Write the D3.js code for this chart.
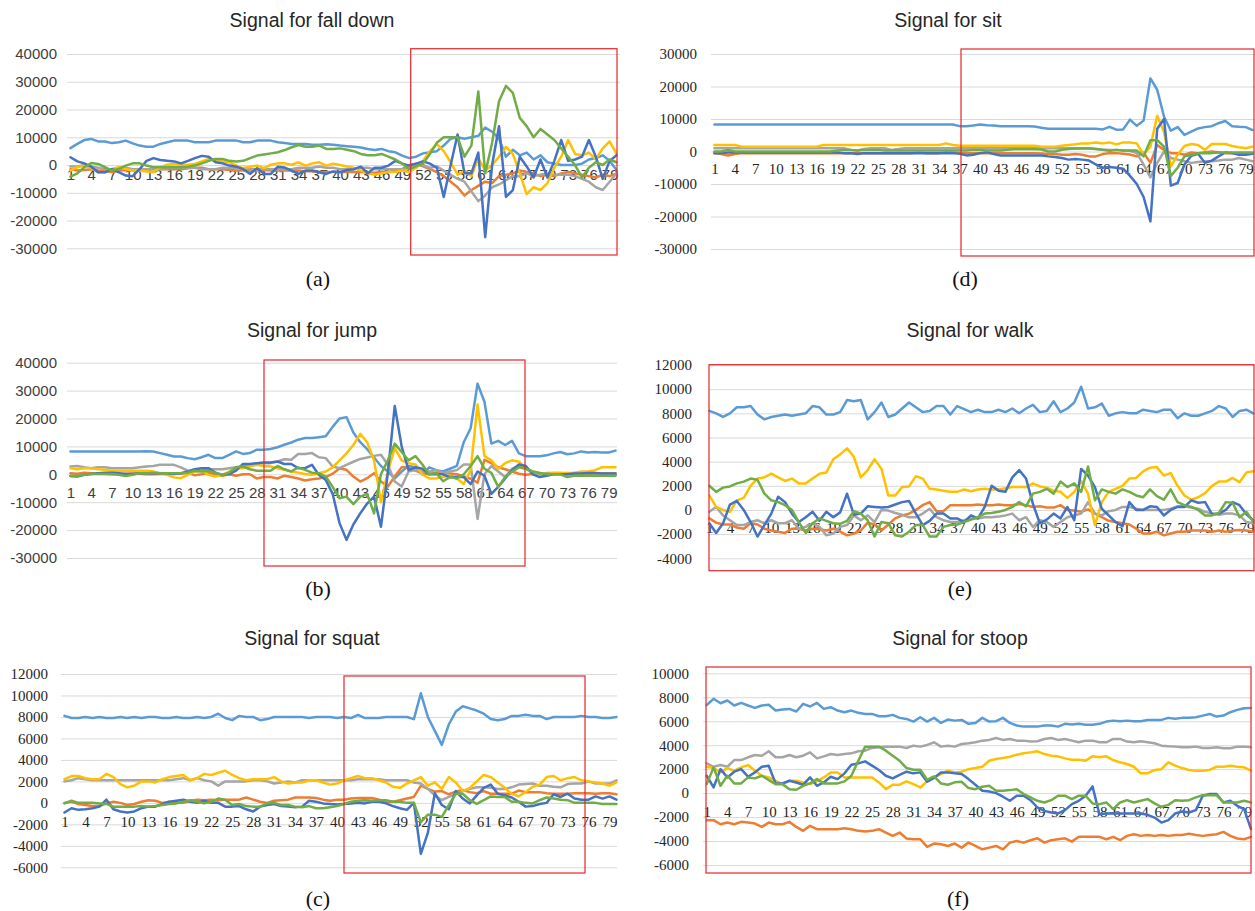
<!DOCTYPE html>
<html>
<head>
<meta charset="utf-8">
<script src="https://d3js.org/d3.v7.min.js"></script>
<style>
  body { margin: 0; background: #fff; }
</style>
</head>
<body>
<svg width="1255" height="911"></svg>
<script>
// samples 1..80, x labels every third sample
const days = d3.range(1, 81);
const xTickLabels = d3.range(1, 80, 3);
const seriesColors = ["#5B9BD5", "#ED7D31", "#A5A5A5", "#FFC000", "#4472C4", "#70AD47"];

// ---- (a) fall down
const fallTicks = [40000, 30000, 20000, 10000, 0, -10000, -20000, -30000];
const fallS1 = [6100,7600,9000,9400,8500,8500,7900,8200,8800,7800, 7000,6600,6600,7600,8200,8800,8800,8800,8200,8200, 8200,8800,8800,8800,8800,8200,8200,8800,8800,8800, 8200,7900,7600,7600,7600,7300,7300,7500,7300,7000, 6800,6600,6300,5800,5400,5800,5000,4600,3400,2500, 3000,4200,4600,5000,7000,9500,10000,9500,10000,10500, 13500,12000,9500,3000,5500,3500,4500,2000,3500,1000, 500,0,0,0,500,2000,2500,3500,1500,-1800];
const fallS2 = [-1500,-2000,-1800,-1500,-2000,-2200,-2500,-2000,-1800,-2000, -1800,-1500,-1500,-1500,-1500,-1500,-1500,-1200,-1000,-1000, -1500,-1500,-1500,-1800,-2000,-2000,-2000,-2000,-1800,-2000, -2000,-2000,-2000,-2000,-2200,-2200,-2500,-2500,-2500,-2500, -2500,-2500,-2500,-2800,-2800,-2500,-2500,-2000,-1500,0, 500,-500,-1500,-2500,-4000,-6000,-8000,-11000,-9000,-7500, -6000,-6500,-4000,-3500,-3000,-2000,-2500,-3000,-4000,-3500, -4000,-3000,-2500,-3000,-3500,-4000,-4500,-3500,-4000,-3000];
const fallS3 = [-500,-500,0,-500,-1000,-1500,-1500,-1000,-1000,-1500, -1500,-1500,-1500,-1500,-1000,-1000,-1000,-1000,-1000,-1500, -1500,-1500,-1000,-1000,-1000,-1500,-1500,-1500,-1500,-1500, -1500,-1500,-1500,-1000,-1000,-1000,-500,-1000,-1000,-1500, -1500,-1500,-1000,-1000,-1500,-1500,-1500,-1500,-1500,-1000, 0,0,-1000,-500,-2000,-3500,-5000,-6000,-9500,-13000, -11000,-8000,-7000,-5500,-4000,-4000,-3000,-4000,-3500,-3000, -3500,-3500,-3500,-4000,-5000,-6000,-8000,-9000,-6000,-3000];
const fallS4 = [-2000,-800,-200,-1100,-2600,-2600,-1400,-800,-1400,-2000, -2000,-2300,-2600,-800,100,400,100,100,400,1300, 2200,1800,1300,1000,-200,-1100,-600,-200,-1100,100, 600,600,100,1000,-200,600,1000,-200,500,0, -500,-1000,-2000,-3000,-3500,-3000,-2500,-2500,-2000,-2500, -1000,1500,5000,7500,5000,1000,-3500,-2000,-4000,2500, -2000,0,3000,6500,4000,-3000,-10500,-8000,-9000,-6500, -1000,3000,9000,4000,3500,4500,2000,6000,8500,4000];
const fallS5 = [2800,1300,600,-600,-2600,-2600,-1500,-2600,-3800,-4000, -1500,1500,2500,1800,1500,1300,600,1500,2500,3300, 3000,1000,600,-200,-600,-1500,-3200,-1100,-3200,-3200, -600,-900,-2000,-3200,-2000,-2000,-2600,-3200,-2300,-2600, -1800,-1500,-600,-3000,-1000,-1000,-200,1500,500,-200, 500,1300,500,-1000,-11500,0,11000,-3000,-3000,4500, -26000,0,14000,-11500,-9000,3000,-500,-4500,2000,-4500, 1500,9000,1500,2000,3000,9000,3000,-5000,1500,3500];
const fallS6 = [-4200,-3000,-800,700,400,-800,-2000,-1400,-200,600, 600,-200,-800,-800,-800,-800,-800,-600,-200,600, 1500,2200,2200,1500,1300,1500,2500,3400,3800,4200, 4600,5400,6400,7200,6600,6600,7000,5800,5800,6000, 5500,5000,4000,3500,3500,4000,3000,2000,500,-1500, -500,500,4000,8000,10000,10000,10000,3000,7000,26500, -3000,8000,23000,28500,26000,17000,14000,10000,13000,11000, 9000,6000,3000,0,-4500,-1000,1000,0,2000,1000];

// ---- (d) sit
const sitTicks = [30000, 20000, 10000, 0, -10000, -20000, -30000];
const sitS1 = [8300,8300,8300,8300,8300,8300,8300,8300,8300,8300, 8300,8300,8300,8300,8300,8300,8300,8300,8300,8300, 8300,8300,8300,8300,8300,8300,8300,8300,8300,8300, 8300,8300,8300,8300,8300,8300,7800,7800,8000,8300, 8100,8000,7800,7800,7800,7800,7800,7700,7300,7000, 7000,7000,7000,7000,7000,7000,7000,6800,7600,6700, 6800,9800,7900,9500,22500,19000,10700,6400,7500,5100, 6100,7100,7500,7800,8700,9400,7800,7600,7500,6600];
const sitS2 = [-500,-800,-1200,-800,-500,-500,-500,-500,-500,-500, -500,-500,-500,-500,-500,-500,-500,-500,-500,-500, -500,-500,-500,-500,-500,-500,-500,-500,-500,-500, -300,-500,-500,-500,-200,-300,-500,-500,-500,-500, -500,-500,-500,-500,-500,-500,-500,-500,-600,-800, -800,-1000,-1000,-800,-1000,-1500,-1500,-800,-500,-500, -700,-900,-1500,-300,-3500,2000,500,-500,-500,-1000, -300,-500,-200,0,-200,-500,-500,-500,-500,-500];
const sitS3 = [1000,1000,1000,1000,1000,1000,1000,1000,1000,1000, 1000,1000,1000,1000,1000,1000,1000,1000,1000,1000, 500,300,800,1000,1000,1000,500,800,1000,1000, 1000,1000,1000,1000,1000,1000,1000,1000,1000,1000, 1000,1000,1000,1000,1000,1000,1000,1000,1000,1000, 1000,1000,1000,1000,1000,1000,800,600,500,500, 300,200,-500,-4000,-8000,-3500,0,-2000,-2500,-3000, -3500,-3200,-3000,-3000,-2800,-2500,-2500,-2000,-2500,-3000];
const sitS4 = [2000,2000,2000,2000,1500,1500,1500,1500,1500,1500, 1500,1500,1500,1500,1500,1500,2000,2000,2000,2000, 2000,2000,2000,2000,2000,2000,2000,2000,2000,2000, 2000,2000,2000,2000,2500,2000,1800,1800,1800,1800, 1800,1800,1800,1800,1800,1800,1800,1800,1500,1500, 1500,1800,2000,2200,2500,2500,2800,2500,2800,2200, 2800,2800,2500,-1000,1500,11000,6000,-4600,-1000,1700, 2300,2000,500,2300,2300,2300,1700,1300,1000,1500];
const sitS5 = [-500,-500,-300,-300,-300,-300,-300,-300,-300,-300, -300,-300,-300,-300,-300,-300,-300,-300,-300,-500, -500,-800,-500,-500,-500,-500,-500,-500,-500,-500, -500,-500,-500,-500,-500,-500,-700,-1200,-1000,-500, -200,-800,-1200,-1200,-1200,-1200,-1200,-1200,-1200,-1500, -1700,-2000,-2500,-2300,-2500,-2800,-4000,-5000,-4800,-5000, -5300,-7500,-10000,-14000,-21500,7000,10000,-10500,-9700,-4000, -1300,-700,-3500,-2800,-1500,-300,-500,-1000,-1000,-700];
const sitS6 = [0,0,500,0,0,0,0,0,0,0, 0,0,0,0,0,0,0,0,300,500, 500,300,500,500,500,300,300,300,300,300, 300,300,300,300,300,300,300,300,500,500, 300,300,300,500,700,700,700,700,600,0, 0,500,800,900,900,900,800,500,200,500, 300,300,300,-1500,3500,3500,1500,-7500,-5000,-1500, -1000,-500,-500,-500,-300,-300,-300,-300,-300,-300];

// ---- (b) jump
const jumpTicks = [40000, 30000, 20000, 10000, 0, -10000, -20000, -30000];
const jumpS1 = [8200,8200,8200,8200,8200,8200,8200,8200,8200,8200, 8200,8300,8200,7600,7000,6400,6400,5800,5400,6100, 7000,5800,5800,7000,8200,7300,7600,8800,8800,9100, 9700,10600,11400,12400,13000,13000,13300,13600,17000,20000, 20500,15000,11500,9000,6000,3000,1000,-1500,1000,3000, 2500,0,2500,1500,1000,2000,3000,11500,16500,32500, 26000,11000,12000,10500,12000,7500,6500,6500,6500,6800, 7500,8000,7200,7500,8200,7800,8000,7800,7800,8500];
const jumpS2 = [400,200,600,400,200,200,0,100,200,300, 200,0,0,100,200,300,300,500,-300,0, 500,0,-500,0,-500,0,0,-1500,-1000,-1000, -1500,-500,-1000,-1500,-2200,-1800,-1500,-1000,200,2100, 1600,-800,-2600,-1400,400,-2600,-4400,-800,2500,2500, 1300,300,100,600,600,300,0,-800,-1600,-3000, 5200,4000,2500,1800,1000,200,-200,100,100,100, 100,300,100,300,300,100,300,300,300,300];
const jumpS3 = [2800,3000,2500,2200,2500,2500,2200,2200,2200,2200, 2500,2800,3000,3400,3400,3400,2500,1300,1000,1300, 1800,1800,1800,2200,2500,2800,3400,3400,4000,4000, 4600,5400,5200,7300,7300,7600,6100,5800,2800,2200, 3400,4500,5500,6000,6600,7000,3400,-2600,-4400,1000, 1500,1000,1000,1500,500,1000,1500,3500,3500,-16000, 0,3000,1000,-1000,2000,3000,2000,500,0,500, 500,500,0,500,500,500,500,0,0,0];
const jumpS4 = [2200,1800,2200,2200,1800,1600,1300,1300,1300,1300, 1300,1300,1000,400,-200,-1100,-1400,-200,1000,1300, -200,-800,-200,1000,2200,2200,2800,3400,3000,2800, 2200,1600,1000,600,100,-200,400,1000,2500,5000, 7500,10500,14500,11500,5000,-10000,1000,9500,5000,4000, 3500,0,-1500,-1500,-1000,-500,-1500,-3500,1500,25000, 6500,5000,2000,4000,5000,4500,2000,1000,500,0, 500,500,500,500,1000,1000,1500,2500,2500,2500];
const jumpS5 = [-600,-800,-200,100,400,600,600,400,100,100, 400,400,400,400,400,100,400,1000,1800,2200, 2200,600,-200,100,1300,3700,3700,4000,4200,4200, 4600,3700,3700,2200,2200,3400,-200,-2000,-7000,-17500, -23500,-18000,-14000,-10500,-8000,-18800,500,24500,10000,1500, 2500,2000,0,0,0,-1000,-1000,-1000,-3500,1000, -500,-7000,-4500,-1500,1500,3500,3000,0,-1000,-500, 0,0,0,300,300,500,500,300,300,300];
const jumpS6 = [-600,-600,-200,100,100,100,100,-200,-600,-200, 400,400,600,400,400,400,400,600,1300,1000, 1300,600,-200,600,2500,2800,1800,1300,1300,1300, 3000,1800,1000,2500,1600,600,400,-800,-4500,-8600, -8000,-10700,-8000,-7000,-14000,0,5000,11000,8000,5000, 6500,3500,0,500,-2500,-1000,-1500,0,3000,6500, 2000,500,-4500,-1000,1000,2500,2000,1000,500,0, 0,0,-1000,-500,-500,-500,-500,-500,-500,-500];

// ---- (e) walk
const walkTicks = [12000, 10000, 8000, 6000, 4000, 2000, 0, -2000, -4000];
const walkS1 = [8200,8000,7700,8000,8500,8500,8600,7900,7500,7700, 7800,7900,7800,7900,8000,8600,8500,7900,7900,8100, 9100,9000,9100,7500,8100,8900,7700,7900,8400,8900, 8500,8100,8200,8600,8600,7900,8600,8350,8100,8300, 8100,8100,8300,8100,8400,8000,8400,8700,8100,8200, 9000,8100,8400,8900,10200,8400,8500,8800,7800,8000, 8100,8000,8000,8300,8200,8100,8300,8300,7600,8000, 7800,7800,8000,8200,8600,8400,7700,8200,8300,8000];
const walkS2 = [-700,-1050,-1200,-1200,-1450,-1550,-1100,-1200,-1550,-1700, -1800,-1900,-1550,-1550,-1700,-1550,-1600,-1700,-1550,-1800, -2100,-1950,-1700,-1050,-1200,-1700,-1200,-700,-450,-300, 0,400,650,-100,-100,400,400,400,400,450, 400,400,450,400,400,500,400,250,300,200, 200,400,0,-50,-150,50,-300,-600,-900,-1000, -1100,-1200,-1550,-1950,-1950,-1800,-2100,-1950,-1800,-1800, -1700,-1700,-1700,-1800,-1700,-1800,-1700,-1650,-1700,-1800];
const walkS3 = [-150,250,-450,-850,-1250,-1250,-1000,-850,-1100,-850, -1100,-1100,-850,-1550,-1400,-1100,-1400,-2100,-1950,-1400, -1250,-450,-850,-450,-1000,0,-50,-250,-400,-600, -600,-300,100,-600,-850,-1000,-1000,-850,-700,-700, -600,-600,-550,-450,-300,-850,-600,-1400,-850,-1000, -1400,-1000,-600,-450,-300,650,-300,-450,-100,0, 250,250,100,0,0,0,0,100,300,300, 200,100,-150,-300,-400,-300,-300,-450,-1000,-1100];
const walkS4 = [1200,250,0,-150,800,1000,2000,2600,2700,3000, 2700,2400,2600,2200,2200,2600,3000,3100,4200,4600, 5100,4400,2700,3300,4200,3400,1200,1200,1900,1950, 2800,2600,1750,1700,1600,1500,1500,1700,1550,1700, 1750,1700,1700,1800,1900,1900,1900,2200,1950,1850, 1600,1500,1000,1500,2400,1350,-1260,650,1500,1750, 2000,2600,2650,3200,3500,3550,2850,3050,2000,1200, 850,1050,1400,2000,2350,2350,2650,2300,3100,3200];
const walkS5 = [-1100,-1900,-1100,450,750,0,-1000,-2200,-1250,-300, 1100,650,-300,-1000,-600,-150,-900,-150,-600,-200, 1350,-400,-300,300,250,200,250,450,650,750, -300,-1250,-900,-300,-300,-700,-700,-1000,-450,-700, 250,2000,1600,1500,2700,3300,2600,500,-1100,-800, -300,-700,250,-850,3400,2850,1900,100,-450,-1000, -1350,650,0,0,300,250,-450,0,250,250, 800,600,650,-350,-300,0,650,400,-350,-850];
const walkS6 = [2000,1500,1850,1950,2200,2350,2600,2500,1350,800, 650,400,0,-1000,-1900,-1100,-700,-900,-1100,-1150, -900,-100,-300,-850,-2200,-1000,-1100,-2100,-2200,-1800, -1250,-1250,-2200,-2200,-1400,-1250,-1200,-1000,-800,-600, -300,-250,-150,0,250,650,300,1350,1500,1750, 1350,2350,1900,2200,1500,3600,800,1700,1500,1350, 1700,1500,1200,1050,1700,1150,850,1700,650,400, 250,0,-450,-450,-250,650,600,-600,-150,-1000];

// ---- (c) squat
const squatTicks = [12000, 10000, 8000, 6000, 4000, 2000, 0, -2000, -4000, -6000];
const squatS1 = [8100,7900,7900,8000,7900,8000,7900,7900,8000,7900, 8000,7900,8000,8000,7900,7900,8000,7900,7900,8000, 7900,8000,8300,7900,7700,8100,8000,8000,7700,7800, 8000,8000,8000,8000,8000,7900,8000,8000,8000,7900, 8000,7900,8200,7900,7900,7900,8000,8000,8000,8000, 7800,10200,8000,6700,5400,7300,8500,9000,8800,8600, 8300,7800,7700,7800,8100,8100,8200,8100,8100,7800, 8000,8000,8000,8000,8100,8000,8000,7900,7900,8000];
const squatS2 = [0,100,-100,-200,-300,-300,-50,100,0,-200, -100,100,250,200,0,100,0,0,200,300, 250,300,250,300,300,300,500,300,100,0, 200,250,300,500,500,500,450,300,200,300, 300,400,450,450,450,300,100,100,250,400, 550,1600,1300,1050,1100,800,1050,1200,1000,900, 1100,850,850,850,850,1150,1000,1000,1000,900, 850,850,850,900,900,900,850,900,900,800];
const squatS3 = [2000,2100,2300,2200,2100,2100,2100,2100,2100,2100, 2100,2100,2100,2100,2100,2100,2200,2300,2100,2300, 2100,2000,1600,2000,2000,2000,2000,2100,2100,2000, 1800,1900,2000,1900,2100,2100,2100,2100,2100,2100, 2100,2100,2200,2200,2200,2200,2100,2100,2100,2100, 1900,1800,1300,700,250,550,850,1100,1300,1450, 1450,1400,1300,1300,1450,1700,1750,1800,1600,1600, 1500,1450,1750,1800,1800,2000,1800,1800,1800,2100];
const squatS4 = [2200,2500,2500,2300,2200,2200,2700,2400,1750,1450, 1600,2000,2000,1900,2200,2400,2500,2600,2100,2300, 2700,2600,2800,3000,2600,2300,2100,2200,2200,2200, 2400,2000,1800,1900,1900,2100,2100,1900,1700,1800, 2100,2300,2500,2300,2300,2100,1900,1500,1400,1800, 2100,2400,1600,1900,1300,2400,1900,1100,1400,2000, 2600,2400,1900,1400,850,600,1000,1500,1700,2400, 2500,2100,2300,2400,2100,2000,1900,1800,1600,1900];
const squatS5 = [-900,-500,-650,-600,-500,-350,300,-600,-800,-900, -800,-500,-350,-350,-100,100,200,300,100,0, 200,0,0,-350,-350,-300,-600,-800,-350,-200, -100,-300,-350,-400,-350,200,100,-50,-100,-150, -100,-50,0,-50,100,100,-50,-300,-500,-650, 0,-4750,-2800,900,-200,-600,1100,400,-50,700, 1400,1700,850,700,500,100,-350,-300,-100,0, 800,550,850,400,300,300,600,400,600,300];
const squatS6 = [-50,200,0,0,0,-50,-100,-350,-350,-350, -350,-300,-350,-300,-200,-100,-50,100,250,100, -50,100,400,300,-200,-100,-300,-350,-350,-50, 0,-200,-200,-350,-400,-300,-500,-500,-400,-300, -100,100,200,250,200,250,250,100,100,0, 0,-1800,-1100,-1100,-1300,-200,850,850,250,-100, 250,600,550,550,100,100,0,-50,250,500, 400,300,250,0,0,0,0,-100,-100,-100];

// ---- (f) stoop
const stoopTicks = [10000, 8000, 6000, 4000, 2000, 0, -2000, -4000, -6000];
const stoopS1 = [7350,7870,7500,7730,7310,7530,7310,7110,7310,7370, 6890,6980,7030,6810,7450,7230,7530,7030,7170,6890, 6750,6890,6700,6610,6610,6420,6420,6530,6280,6190, 5970,6330,5970,6280,5860,6140,6050,6110,5780,5860, 6280,5970,6000,6280,5860,5640,5550,5550,5550,5640, 5640,5550,5780,5720,5780,5700,5700,5780,5970,6050, 6000,6050,6000,6000,6110,6110,6110,6280,6200,6280, 6280,6330,6470,6610,6390,6470,6750,6950,7090,7110];
const stoopS2 = [-2260,-2260,-2600,-2460,-2600,-2400,-2460,-2540,-2820,-2460, -2600,-2600,-2400,-2820,-3150,-2730,-3010,-3010,-3010,-3010, -2930,-3010,-3150,-3210,-3150,-3010,-3290,-3570,-3290,-3790, -3850,-3850,-4490,-4210,-4270,-4410,-4210,-4550,-4130,-4410, -4690,-4550,-4410,-4690,-4130,-3990,-4130,-3930,-3770,-4130, -3930,-3850,-3770,-4050,-3650,-3650,-3650,-3650,-3850,-3650, -3930,-3570,-3430,-3570,-3490,-3570,-3490,-3570,-3490,-3490, -3380,-3490,-3570,-3490,-3430,-3240,-3570,-3790,-3850,-3650];
const stoopS3 = [2480,2200,2340,2200,2760,2760,2990,3180,3120,3490, 2990,2990,3180,2990,3120,3400,2900,3070,3260,3180, 3260,3320,3490,3540,3770,3820,3880,3880,3880,3770, 3960,3880,4020,4240,3880,3960,3880,4100,4160,4240, 4380,4440,4600,4440,4520,4380,4380,4300,4330,4520, 4600,4440,4520,4380,4240,4380,4380,4240,4240,4520, 4520,4300,4240,4330,4240,4160,3960,3910,3880,3820, 3820,3880,3770,3770,3820,3740,3740,3880,3880,3820];
const stoopS4 = [2200,2090,1730,2090,1870,2150,2340,1870,1450,1310, 1030,750,1030,1030,890,750,980,1310,1730,1730, 1310,1310,1310,1310,1310,890,330,700,700,980, 750,470,980,1310,1590,1870,1730,1790,2000,2090, 2200,2700,2850,2930,3040,3210,3320,3400,3490,3260, 3120,3070,2900,2790,2790,2710,3070,2990,3070,2760, 2570,2430,2200,1650,1650,1930,2000,2570,2290,2090, 1930,1870,1870,1930,2200,2200,2290,2200,2150,1870];
const stoopS5 = [1450,480,2000,1310,1790,2000,1370,1730,2200,2290, 810,810,1030,890,700,1310,610,890,1370,1170, 1650,2370,2480,2650,2290,1930,1450,1230,1530,1790, 1650,1730,950,1260,1730,1730,1650,1590,1170,700, 200,140,0,-300,-640,-220,-220,-590,-1200,-1480, -1620,-1700,-1420,-920,-640,-220,560,-1760,-1700,-1680, -1700,-1700,-1700,-1700,-1810,-2040,-2460,-2260,-1700,-1540, -1620,-1420,-220,-80,-80,-780,-640,-1060,-1340,-3000];
const stoopS6 = [750,2150,610,1450,810,810,1310,1230,1450,1090, 750,750,330,280,610,810,1170,810,810,810, 980,1450,2700,3880,3880,3880,3540,3120,2700,2090, 1950,1950,1120,1400,810,700,900,950,420,330, 530,610,200,200,250,330,-80,-360,-640,-780, -590,-220,-220,-500,-220,-220,-860,-920,-780,-1340, -780,-590,-780,-640,-500,-860,-1140,-980,-590,-640, -590,-360,-170,-170,-170,-780,-780,-780,-640,-780];

const sans = "'Liberation Sans', Arial, Helvetica, sans-serif";
const serif = "'Liberation Serif', 'Times New Roman', Times, serif";

// layout of the six small charts (pixel boxes taken from the figure)
const panels = [
  { title: "Signal for fall down", caption: "(a)", series: [fallS1, fallS2, fallS3, fallS4, fallS5, fallS6], ticks: fallTicks,
    gx0: 67, gx1: 620, px0: 67, px1: 620, pad: 0.5, yTop: 54, yBot: 248.3, xLabY: 175, font: sans, ink: "#404040", labelRight: 57,
    tx: 312, ty: 20, cx: 318, cy: 278, box: [410.7, 48.7, 617, 255] },
  { title: "Signal for sit", caption: "(d)", series: [sitS1, sitS2, sitS3, sitS4, sitS5, sitS6], ticks: sitTicks,
    gx0: 711, gx1: 1255, px0: 711, px1: 1256, pad: 0.5, yTop: 54, yBot: 249, xLabY: 169, font: serif, ink: "#262626", labelRight: 697,
    tx: 948, ty: 20, cx: 965, cy: 278, box: [961, 49, 1254, 256] },
  { title: "Signal for jump", caption: "(b)", series: [jumpS1, jumpS2, jumpS3, jumpS4, jumpS5, jumpS6], ticks: jumpTicks,
    gx0: 67, gx1: 617, px0: 67, px1: 619, pad: 0.5, yTop: 362.7, yBot: 558, xLabY: 493, font: sans, ink: "#404040", labelRight: 57,
    tx: 312, ty: 330, cx: 318, cy: 588, box: [264, 360, 525, 566] },
  { title: "Signal for walk", caption: "(e)", series: [walkS1, walkS2, walkS3, walkS4, walkS5, walkS6], ticks: walkTicks,
    gx0: 709, gx1: 1255, px0: 709.3, px1: 1253.3, pad: 0, yTop: 365, yBot: 558.3, xLabY: 528, font: serif, ink: "#262626", labelRight: 692,
    tx: 970, ty: 330, cx: 960, cy: 588, box: [709, 364.7, 1254, 570.7] },
  { title: "Signal for squat", caption: "(c)", series: [squatS1, squatS2, squatS3, squatS4, squatS5, squatS6], ticks: squatTicks,
    gx0: 61, gx1: 617, px0: 61, px1: 620, pad: 0.5, yTop: 674, yBot: 867.3, xLabY: 821.7, font: serif, ink: "#262626", labelRight: 48,
    tx: 312, ty: 638, cx: 318, cy: 898, box: [344, 676, 585, 873] },
  { title: "Signal for stoop", caption: "(f)", series: [stoopS1, stoopS2, stoopS3, stoopS4, stoopS5, stoopS6], ticks: stoopTicks,
    gx0: 703, gx1: 1251, px0: 706.7, px1: 1251, pad: 0, yTop: 673.3, yBot: 865, xLabY: 811.7, font: serif, ink: "#262626", labelRight: 689,
    tx: 960, ty: 638, cx: 958, cy: 898, box: [706, 667, 1251, 873] }
];

panels.forEach(p => p.series.forEach((s, i) => {
  if (s.length !== days.length) throw new Error(p.caption + " series " + i + " has " + s.length + " values");
}));

const svg = d3.select("svg");

panels.forEach(p => {
  const g = svg.append("g");

  const y = d3.scaleLinear()
    .domain([d3.min(p.ticks), d3.max(p.ticks)])
    .range([p.yBot, p.yTop]);

  const x = d3.scalePoint()
    .domain(days)
    .range([p.px0, p.px1])
    .padding(p.pad);

  // gridlines + value labels
  const yAxis = d3.axisLeft(y)
    .tickValues(p.ticks)
    .tickSize(-(p.gx1 - p.gx0))
    .tickPadding(p.gx0 - p.labelRight)
    .tickFormat(d => String(d));

  g.append("g")
    .attr("transform", "translate(" + p.gx0 + ",0)")
    .call(yAxis)
    .call(a => a.select(".domain").remove())
    .call(a => a.selectAll(".tick line").attr("stroke", "#d9d9d9").attr("stroke-width", 1))
    .call(a => a.selectAll(".tick text")
      .attr("font-family", p.font)
      .attr("font-size", 15)
      .attr("fill", p.ink));

  // sample number labels
  const xAxis = d3.axisBottom(x)
    .tickValues(xTickLabels)
    .tickSize(0)
    .tickPadding(0);

  g.append("g")
    .attr("transform", "translate(0," + p.xLabY + ")")
    .call(xAxis)
    .call(a => a.select(".domain").remove())
    .call(a => a.selectAll(".tick text")
      .attr("dy", "0.35em")
      .attr("font-family", p.font)
      .attr("font-size", 15)
      .attr("fill", p.ink));

  // signal lines
  const line = d3.line()
    .x((d, i) => x(days[i]))
    .y(d => y(d));

  g.selectAll("path.signal")
    .data(p.series)
    .join("path")
      .attr("class", "signal")
      .attr("d", line)
      .attr("fill", "none")
      .attr("stroke", (d, i) => seriesColors[i])
      .attr("stroke-width", 2.5)
      .attr("stroke-linejoin", "round")
      .attr("stroke-linecap", "round");

  // red highlight box
  g.append("rect")
    .attr("x", p.box[0])
    .attr("y", p.box[1])
    .attr("width", p.box[2] - p.box[0])
    .attr("height", p.box[3] - p.box[1])
    .attr("fill", "none")
    .attr("stroke", "#E8262B")
    .attr("stroke-width", 1.2);

  g.append("text")
    .attr("x", p.tx)
    .attr("y", p.ty)
    .attr("dy", "0.35em")
    .attr("text-anchor", "middle")
    .attr("font-family", sans)
    .attr("font-size", 19.5)
    .attr("fill", "#262626")
    .text(p.title);

  g.append("text")
    .attr("x", p.cx)
    .attr("y", p.cy)
    .attr("dy", "0.35em")
    .attr("text-anchor", "middle")
    .attr("font-family", serif)
    .attr("font-size", 22)
    .attr("fill", "#111")
    .text(p.caption);
});
</script>
</body>
</html>
